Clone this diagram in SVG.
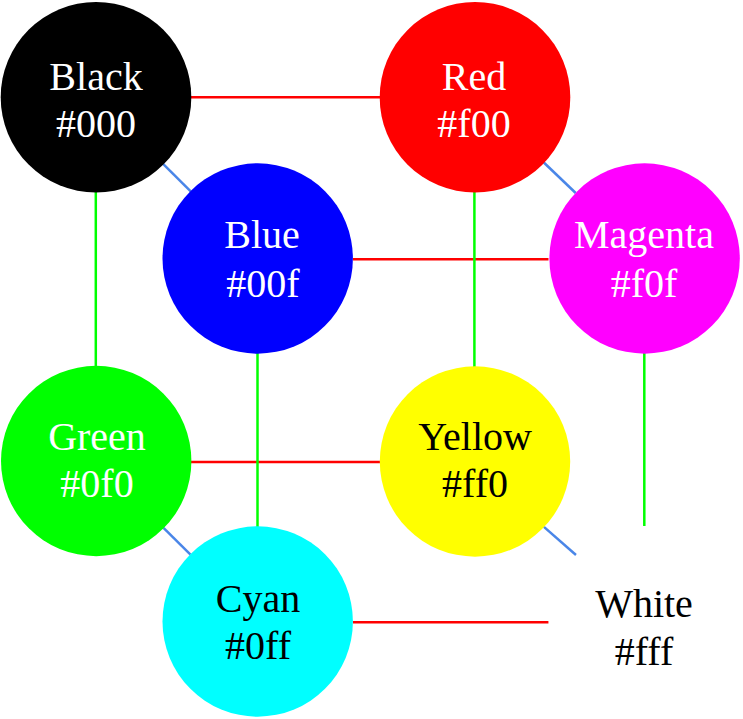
<svg xmlns="http://www.w3.org/2000/svg" width="743" height="719" viewBox="0 0 743 719">
<style>
.r{stroke:#ff0000;stroke-width:2.5;fill:none}
.g{stroke:#00ff00;stroke-width:2.5;fill:none}
.b{stroke:#4a86e8;stroke-width:2.5;fill:none}
text{font-family:"Liberation Serif","Times New Roman",serif;font-size:40px;text-anchor:middle}
.w{fill:#ffffff}
.k{fill:#000000}
</style>
<rect width="743" height="719" fill="#ffffff"/>
<g id="connectors">
<line class="r" x1="191" y1="97.3" x2="380" y2="97.3"/>
<line class="r" x1="353" y1="259.3" x2="548.5" y2="259.3"/>
<line class="r" x1="191" y1="462" x2="380" y2="462"/>
<line class="r" x1="353" y1="622.3" x2="548.5" y2="622.3"/>
<line class="g" x1="95.8" y1="192" x2="95.8" y2="366"/>
<line class="g" x1="474.4" y1="192" x2="474.4" y2="367"/>
<line class="g" x1="257.5" y1="353" x2="257.5" y2="527"/>
<line class="g" x1="644.3" y1="353" x2="644.3" y2="526"/>
<line class="b" x1="163.3" y1="164.1" x2="190.7" y2="191.4"/>
<line class="b" x1="543.8" y1="162.5" x2="575.7" y2="193"/>
<line class="b" x1="163.5" y1="527.9" x2="190.5" y2="554.6"/>
<line class="b" x1="543.9" y1="526.9" x2="576" y2="555"/>
</g>
<g id="black"><circle cx="96" cy="97.2" r="95.3" fill="#000000"/><text class="w" x="96" y="90">Black</text><text class="w" x="96" y="137.3">#000</text></g>
<g id="red"><circle cx="475" cy="97.3" r="95.3" fill="#ff0000"/><text class="w" x="474" y="90">Red</text><text class="w" x="474" y="137.3">#f00</text></g>
<g id="blue"><circle cx="257.7" cy="258.5" r="95.2" fill="#0000ff"/><text class="w" x="262" y="248.3">Blue</text><text class="w" x="263" y="296.7">#00f</text></g>
<g id="magenta"><circle cx="644.6" cy="258.5" r="95.2" fill="#ff00ff"/><text class="w" x="644" y="248.3">Magenta</text><text class="w" x="644" y="296.7">#f0f</text></g>
<g id="green"><circle cx="96.2" cy="461" r="95.2" fill="#00ff00"/><text class="w" x="97" y="450">Green</text><text class="w" x="97" y="497.3">#0f0</text></g>
<g id="yellow"><circle cx="475" cy="461.5" r="95.2" fill="#ffff00"/><text class="k" x="475" y="450">Yellow</text><text class="k" x="475" y="497.3">#ff0</text></g>
<g id="cyan"><circle cx="257.7" cy="621.5" r="95.2" fill="#00ffff"/><text class="k" x="258" y="611.7">Cyan</text><text class="k" x="258" y="659.3">#0ff</text></g>
<g id="white"><circle cx="644" cy="622" r="95.2" fill="#ffffff"/><text class="k" x="644" y="617.3">White</text><text class="k" x="644" y="665">#fff</text></g>
</svg>
